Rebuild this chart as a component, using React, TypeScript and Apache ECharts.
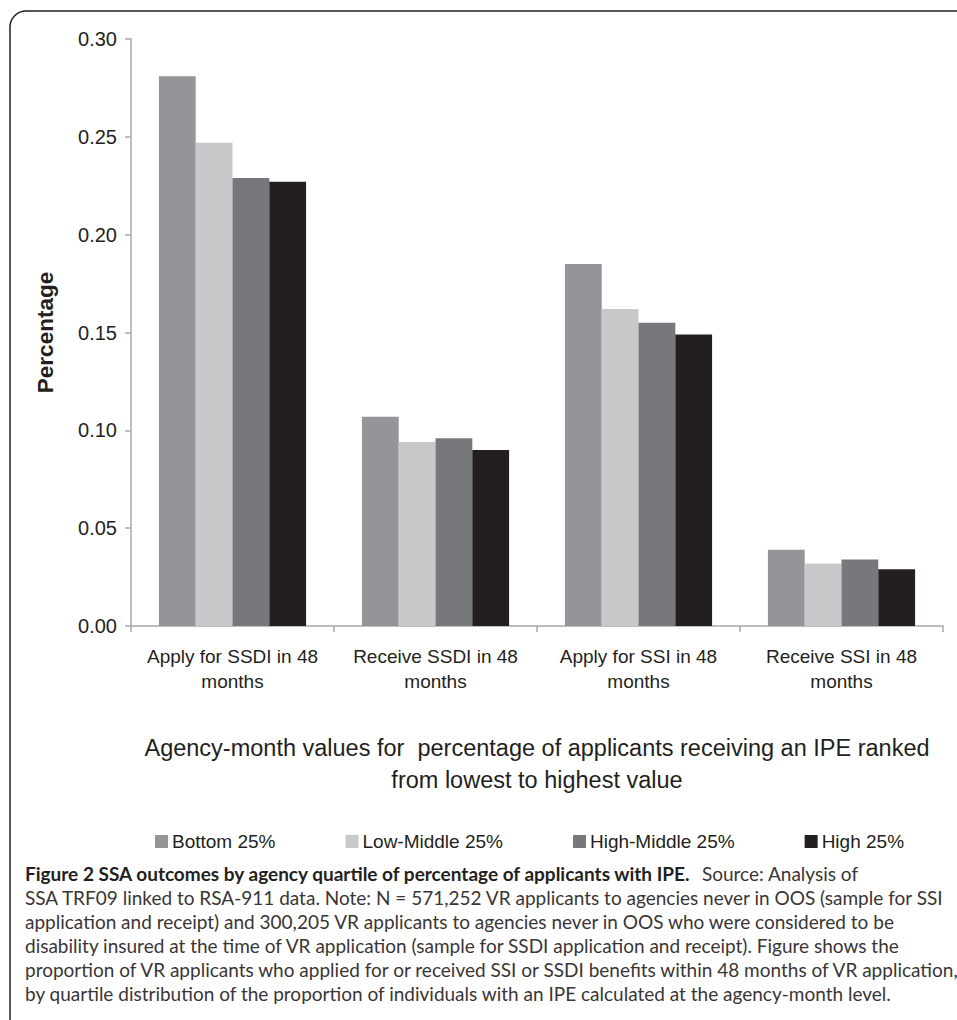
import React, { useEffect, useRef } from "react";
import * as echarts from "echarts";

const categories = [
  "Apply for SSDI in 48 months",
  "Receive SSDI in 48 months",
  "Apply for SSI in 48 months",
  "Receive SSI in 48 months",
];
const seriesNames = ["Bottom 25%", "Low-Middle 25%", "High-Middle 25%", "High 25%"];
const bottom25 = [0.281, 0.107, 0.185, 0.039];
const lowMiddle25 = [0.247, 0.094, 0.162, 0.032];
const highMiddle25 = [0.229, 0.096, 0.155, 0.034];
const high25 = [0.227, 0.09, 0.149, 0.029];
const seriesColors = ["#939598", "#c7c8ca", "#77787b", "#231f20"];

const yAxisTitle = "Percentage";
const xAxisTitle =
  "Agency-month values for  percentage of applicants receiving an IPE ranked\nfrom lowest to highest value";

const captionBold = "Figure 2 SSA outcomes by agency quartile of percentage of applicants with IPE.";
const captionLines = [
  "  Source: Analysis of",
  "SSA TRF09 linked to RSA-911 data. Note: N = 571,252 VR applicants to agencies never in OOS (sample for SSI",
  "application and receipt) and 300,205 VR applicants to agencies never in OOS who were considered to be",
  "disability insured at the time of VR application (sample for SSDI application and receipt). Figure shows the",
  "proportion of VR applicants who applied for or received SSI or SSDI benefits within 48 months of VR application,",
  "by quartile distribution of the proportion of individuals with an IPE calculated at the agency-month level.",
];

const FONT = "'Liberation Sans', Arial, Helvetica, sans-serif";
const CAPTION_FONT = "Lato, 'Open Sans', sans-serif";
const TEXT = "#231f20";
const AXIS = "#a7a9ac";

export default function App() {
  const ref = useRef<HTMLDivElement>(null);

  useEffect(() => {
    if (!ref.current) return;
    const chart = echarts.init(ref.current, undefined, { renderer: "svg" });
    const values = [bottom25, lowMiddle25, highMiddle25, high25];

    const captionY0 = 875;
    const captionStep = 24;
    const captionGraphics: any[] = captionLines.map((line, i) => {
      if (i === 0) {
        return {
          type: "text",
          left: 25,
          top: captionY0 - 11,
          style: {
            text: "{b|" + captionBold + "}{r|" + line + "}",
            rich: {
              b: { fontFamily: CAPTION_FONT, fontSize: 19, fontWeight: "bold", fill: TEXT },
              r: { fontFamily: CAPTION_FONT, fontSize: 19, fill: "#3a3536" },
            },
          },
        };
      }
      return {
        type: "text",
        left: 25,
        top: captionY0 + i * captionStep - 11,
        style: {
          text: line,
          fontFamily: CAPTION_FONT,
          fontSize: 19,
          fill: "#3a3536",
        },
      };
    });

    chart.setOption({
      animation: false,
      backgroundColor: "#ffffff",
      textStyle: { fontFamily: FONT, color: TEXT },
      grid: { left: 131, right: 14, top: 39, bottom: 394, containLabel: false },
      legend: {
        data: seriesNames,
        left: 150,
        top: 827,
        itemWidth: 13,
        itemHeight: 13,
        itemGap: 70,
        icon: "rect",
        textStyle: { fontFamily: FONT, fontSize: 19, color: TEXT, padding: [0, 0, 0, -1] },
      },
      xAxis: {
        type: "category",
        data: categories,
        name: xAxisTitle,
        nameLocation: "middle",
        nameGap: 106,
        nameTextStyle: { fontFamily: FONT, fontSize: 23.5, color: TEXT, lineHeight: 32 },
        axisLine: { show: true, lineStyle: { color: AXIS, width: 1.5 } },
        axisTick: { show: true, alignWithLabel: false, length: 6, lineStyle: { color: AXIS, width: 1.5 } },
        axisLabel: {
          fontFamily: FONT,
          fontSize: 19,
          color: TEXT,
          lineHeight: 25,
          margin: 18,
          interval: 0,
          formatter: (v: string) => v.replace(" months", "\nmonths"),
        },
        splitLine: { show: false },
      },
      yAxis: {
        type: "value",
        min: 0,
        max: 0.3,
        interval: 0.05,
        name: yAxisTitle,
        nameLocation: "middle",
        nameGap: 74,
        nameRotate: 90,
        nameTextStyle: { fontFamily: FONT, fontSize: 22.5, fontWeight: "bold", color: TEXT },
        axisLine: { show: true, lineStyle: { color: AXIS, width: 1.5 } },
        axisTick: { show: true, length: 6, lineStyle: { color: AXIS, width: 1.5 } },
        axisLabel: {
          fontFamily: FONT,
          fontSize: 20,
          color: TEXT,
          margin: 14,
          formatter: (v: number) => v.toFixed(2),
        },
        splitLine: { show: false },
      },
      series: seriesNames.map((name, i) => ({
        name,
        type: "bar",
        data: values[i],
        barGap: "0%",
        barCategoryGap: "27.5%",
        itemStyle: { color: seriesColors[i] },
      })),
      graphic: [
        {
          type: "rect",
          shape: { x: 10, y: 11, width: 1100, height: 1200, r: [16, 0, 0, 0] },
          style: { fill: "none", stroke: "#231f20", lineWidth: 1.5 },
          silent: true,
        },
        ...captionGraphics,
      ],
    });

    return () => chart.dispose();
  }, []);

  return (
    <div
      ref={ref}
      style={{ position: "fixed", left: 0, top: 0, width: 957, height: 1020, background: "#fff" }}
    />
  );
}
